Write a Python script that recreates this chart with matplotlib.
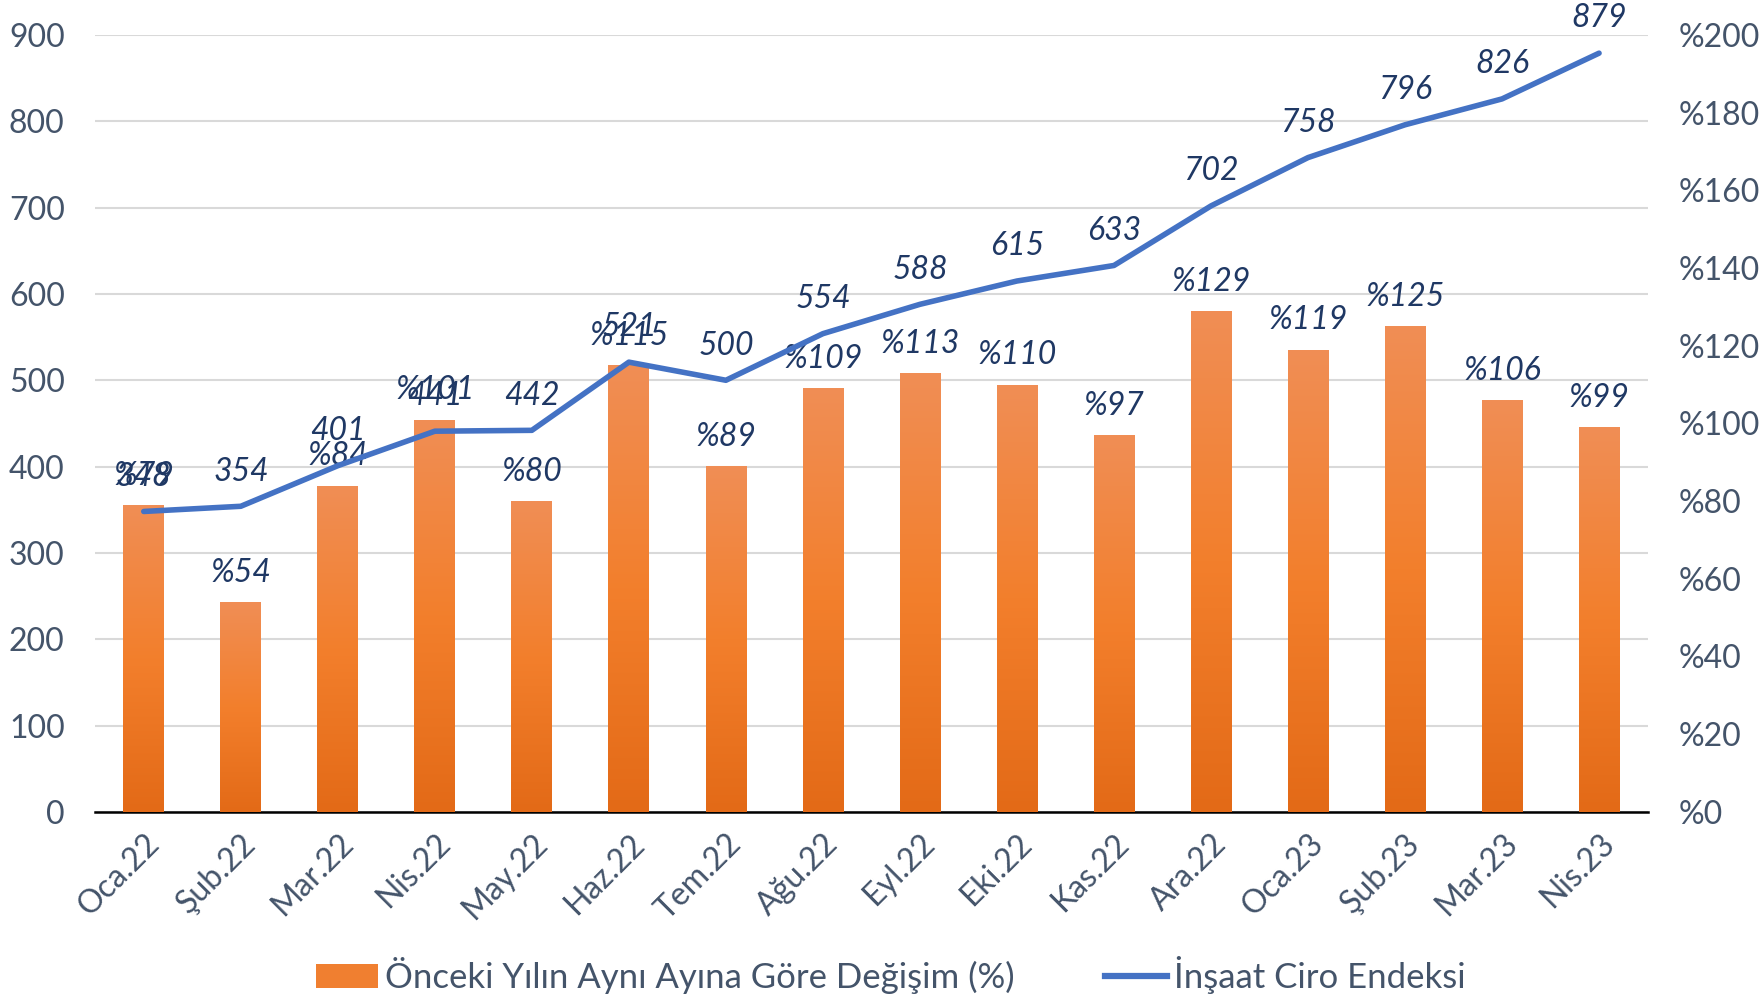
import numpy as np
import matplotlib
matplotlib.use("Agg")
import matplotlib.pyplot as plt
from matplotlib.colors import LinearSegmentedColormap
from matplotlib.patches import Patch
from matplotlib.lines import Line2D

plt.rcParams['font.family'] = ['Lato', 'DejaVu Sans']

aylar = ["Oca.22", "Şub.22", "Mar.22", "Nis.22", "May.22", "Haz.22", "Tem.22", "Ağu.22",
         "Eyl.22", "Eki.22", "Kas.22", "Ara.22", "Oca.23", "Şub.23", "Mar.23", "Nis.23"]
ciro_endeksi = [348, 354, 401, 441, 442, 521, 500, 554, 588, 615, 633, 702, 758, 796, 826, 879]
yillik_degisim = [79, 54, 84, 101, 80, 115, 89, 109, 113, 110, 97, 129, 119, 125, 106, 99]

sol_ticks = list(range(0, 901, 100))
sag_ticks = list(range(0, 201, 20))

tick_renk = "#44546A"
etiket_renk = "#1F3864"
cizgi_renk = "#4472C4"

fig = plt.figure(figsize=(17.64, 10.01), dpi=100)
ax = fig.add_axes([0.054, 0.189, 0.880, 0.776])
ax2 = ax.twinx()
ax3 = ax.twinx()
ax3.sharey(ax)

x = np.arange(len(aylar))

# grid (arkada)
ax.set_ylim(0, 900)
ax.set_yticks(sol_ticks)
ax.grid(axis='y', color='#D9D9D9', linewidth=1.5)
ax.set_axisbelow(True)
ax.set_xlim(-0.5, len(aylar) - 0.5)

# barlar - sag eksen
ax2.set_ylim(0, 200)
ax2.set_yticks(sag_ticks)
ax2.set_yticklabels([f"%{t}" for t in sag_ticks])
cmap = LinearSegmentedColormap.from_list("turuncu", ["#E36A17", "#F37F2C", "#F08E55"])
gradyan = np.linspace(0, 1, 256).reshape(-1, 1)
bars = ax2.bar(x, yillik_degisim, width=0.42, color="#F07F30", zorder=2)
for b in bars:
    x0, y0 = b.get_x(), b.get_y()
    im = ax2.imshow(gradyan, cmap=cmap, origin='lower', aspect='auto',
                    extent=[x0, x0 + b.get_width(), y0, y0 + b.get_height()], zorder=2.5)
    im.set_clip_path(b)
for i, v in enumerate(yillik_degisim):
    ax2.annotate(f"%{v}", (i, v), xytext=(0, 21), textcoords='offset points',
                 ha='center', va='center', fontsize=23, style='italic', color=etiket_renk)
ax2.set_xlim(-0.5, len(aylar) - 0.5)

# cizgi - sol eksen
ax3.plot(x, ciro_endeksi, color=cizgi_renk, linewidth=4, solid_capstyle='round')
for i, v in enumerate(ciro_endeksi):
    ax3.annotate(str(v), (i, v), xytext=(0, 25), textcoords='offset points',
                 ha='center', va='center', fontsize=23, style='italic', color=etiket_renk)
ax3.tick_params(right=False, labelright=False)

for a in (ax, ax2, ax3):
    for s in a.spines.values():
        s.set_visible(False)
ax.spines['bottom'].set_visible(True)
ax.spines['bottom'].set_color('black')
ax.spines['bottom'].set_linewidth(1.8)
ax.spines['bottom'].set_zorder(5)

ax.set_xticks(x)
ax.set_xticklabels(aylar, rotation=45, ha='right', rotation_mode='anchor')
ax.tick_params(axis='x', length=0, labelsize=23, labelcolor=tick_renk, pad=12)
ax.tick_params(axis='y', length=0, labelsize=23, labelcolor=tick_renk, pad=22)
ax2.tick_params(axis='y', length=0, labelsize=23, labelcolor=tick_renk, pad=22)
ax2.tick_params(axis='x', bottom=False, labelbottom=False)
ax3.tick_params(axis='x', bottom=False, labelbottom=False)

handles = [Patch(facecolor="#F07F30", edgecolor='none'),
           Line2D([0], [0], color=cizgi_renk, linewidth=4.5)]
fig.legend(handles, ["Önceki Yılın Aynı Ayına Göre Değişim (%)", "İnşaat Ciro Endeksi"],
           loc='center', bbox_to_anchor=(0.505, 0.026), ncol=2, frameon=False,
           fontsize=25, labelcolor=tick_renk, handlelength=1.8, handletextpad=0.2,
           columnspacing=2.6)

fig.savefig("out.png", dpi=100)
